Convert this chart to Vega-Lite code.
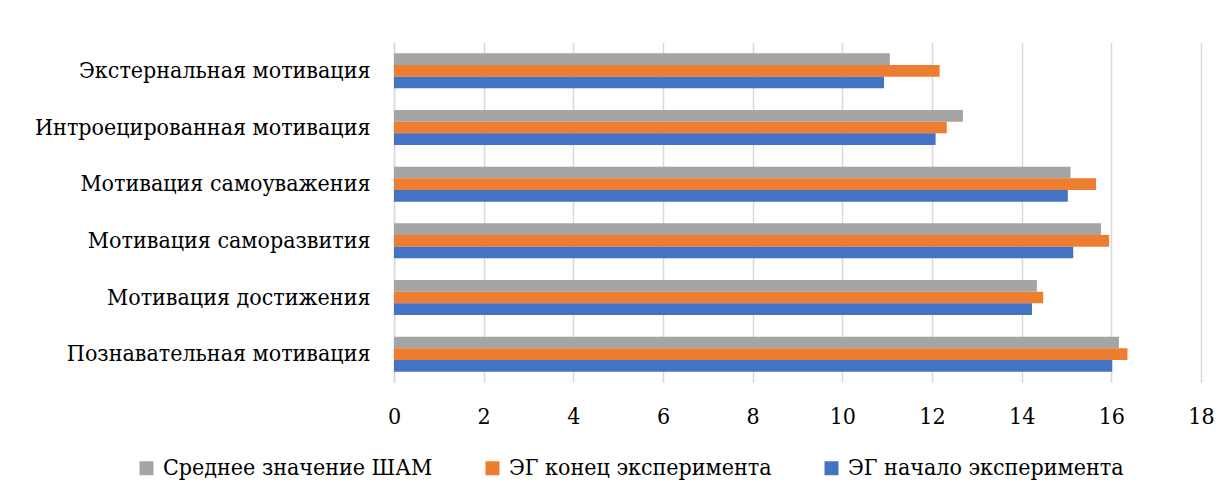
{
  "$schema": "https://vega.github.io/schema/vega-lite/v6.json",
  "autosize": {"type": "none"},
  "width": 807,
  "height": 340,
  "padding": {"left": 394, "top": 42.5, "right": 30, "bottom": 116.5},
  "background": "white",
  "config": {
    "font": "DejaVu Serif Condensed",
    "view": {"stroke": null}
  },
  "data": {
    "values": [
      {"cat": "Экстернальная мотивация", "series": "Среднее значение ШАМ", "v": 11.06},
      {"cat": "Экстернальная мотивация", "series": "ЭГ конец эксперимента", "v": 12.17},
      {"cat": "Экстернальная мотивация", "series": "ЭГ начало эксперимента", "v": 10.93},
      {"cat": "Интроецированная мотивация", "series": "Среднее значение ШАМ", "v": 12.69},
      {"cat": "Интроецированная мотивация", "series": "ЭГ конец эксперимента", "v": 12.33},
      {"cat": "Интроецированная мотивация", "series": "ЭГ начало эксперимента", "v": 12.08},
      {"cat": "Мотивация самоуважения", "series": "Среднее значение ШАМ", "v": 15.09},
      {"cat": "Мотивация самоуважения", "series": "ЭГ конец эксперимента", "v": 15.66},
      {"cat": "Мотивация самоуважения", "series": "ЭГ начало эксперимента", "v": 15.03},
      {"cat": "Мотивация саморазвития", "series": "Среднее значение ШАМ", "v": 15.77},
      {"cat": "Мотивация саморазвития", "series": "ЭГ конец эксперимента", "v": 15.95},
      {"cat": "Мотивация саморазвития", "series": "ЭГ начало эксперимента", "v": 15.15},
      {"cat": "Мотивация достижения", "series": "Среднее значение ШАМ", "v": 14.34},
      {"cat": "Мотивация достижения", "series": "ЭГ конец эксперимента", "v": 14.48},
      {"cat": "Мотивация достижения", "series": "ЭГ начало эксперимента", "v": 14.23},
      {"cat": "Познавательная мотивация", "series": "Среднее значение ШАМ", "v": 16.17},
      {"cat": "Познавательная мотивация", "series": "ЭГ конец эксперимента", "v": 16.36},
      {"cat": "Познавательная мотивация", "series": "ЭГ начало эксперимента", "v": 16.02}
    ]
  },
  "mark": {"type": "bar"},
  "encoding": {
    "y": {
      "field": "cat",
      "type": "nominal",
      "sort": ["Экстернальная мотивация", "Интроецированная мотивация", "Мотивация самоуважения", "Мотивация саморазвития", "Мотивация достижения", "Познавательная мотивация"],
      "scale": {"paddingInner": 0.382, "paddingOuter": 0.191},
      "axis": {
        "title": null,
        "labelFont": "DejaVu Serif Condensed",
        "labelColor": "#000000",
        "labelFontSize": 23,
        "labelPadding": 24,
        "ticks": false,
        "domain": true,
        "domainColor": "#D9D9D9",
        "domainWidth": 1.5,
        "labelLimit": 500
      }
    },
    "yOffset": {
      "field": "series",
      "type": "nominal",
      "sort": ["Среднее значение ШАМ", "ЭГ конец эксперимента", "ЭГ начало эксперимента"],
      "scale": {"paddingInner": 0, "paddingOuter": 0}
    },
    "x": {
      "field": "v",
      "type": "quantitative",
      "scale": {"domain": [0, 18], "nice": false},
      "axis": {
        "title": null,
        "labelFont": "DejaVu Serif Condensed",
        "labelColor": "#000000",
        "values": [0, 2, 4, 6, 8, 10, 12, 14, 16, 18],
        "labelFontSize": 23,
        "labelPadding": 23,
        "labelFlush": false,
        "ticks": false,
        "domain": false,
        "grid": true,
        "gridColor": "#D9D9D9",
        "gridWidth": 1.5
      }
    },
    "color": {
      "field": "series",
      "type": "nominal",
      "scale": {
        "domain": ["Среднее значение ШАМ", "ЭГ конец эксперимента", "ЭГ начало эксперимента"],
        "range": ["#A5A5A5", "#ED7D31", "#4472C4"]
      },
      "legend": {
        "title": null,
        "labelFont": "DejaVu Serif Condensed",
        "labelColor": "#000000",
        "orient": "none",
        "direction": "horizontal",
        "legendX": -259,
        "legendY": 414,
        "symbolType": "square",
        "symbolSize": 196,
        "symbolStrokeWidth": 0,
        "labelFontSize": 23,
        "labelOffset": 5,
        "columnPadding": 48,
        "labelLimit": 400
      }
    }
  }
}
